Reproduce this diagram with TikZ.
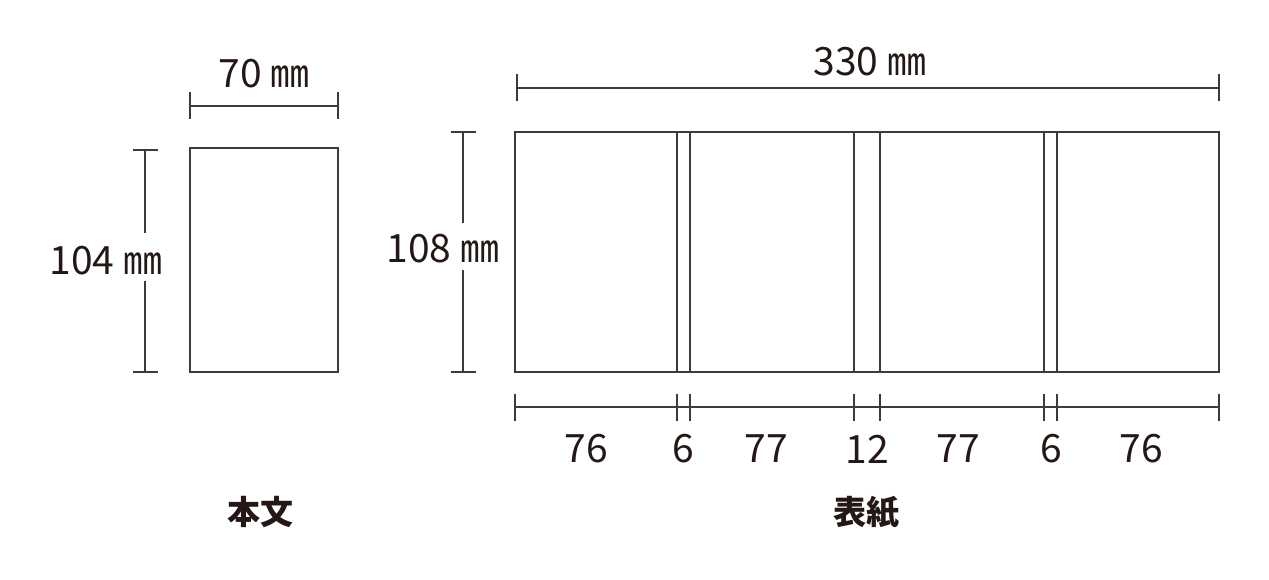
\documentclass[tikz,border=0pt]{standalone}
\usepackage{fontspec}
\setmainfont{Noto Sans CJK JP}
\usetikzlibrary{calc}
\definecolor{ink}{HTML}{231815}
\definecolor{rulegray}{HTML}{3E3A39}
\tikzset{
    outline/.style = {draw=rulegray, line width=1.2pt},
    dimline/.style = {draw=rulegray, line width=1.1pt},
    dimlabel/.style = {text=ink, inner sep=0pt, font=\fontsize{39}{44}\selectfont},
    caption/.style = {text=ink, inner sep=0pt, font=\fontsize{33}{38}\selectfont\bfseries}
}
\newcommand{\vtick}[1]{\draw[dimline] ($(#1)+(0,-13.5)$) -- ($(#1)+(0,13.5)$)}
\newcommand{\htick}[1]{\draw[dimline] ($(#1)+(-12.5,0)$) -- ($(#1)+(12.5,0)$)}

\begin{document}
\begin{tikzpicture}[x=1pt,y=-1pt]
\useasboundingbox (0,0) rectangle (1269,580);

% body (honbun)
\coordinate (bodyNW) at (190,148);
\coordinate (bodySE) at (338,372);
\draw[outline] (bodyNW) rectangle (bodySE);

\coordinate (wL) at (190,106);
\coordinate (wR) at (338,106);
\draw[dimline] (wL) -- (wR);
\vtick{wL}; \vtick{wR};
\node[dimlabel] (bodyW) at (264,74) {70 ㎜};

\coordinate (hT) at (145,150);
\coordinate (hB) at (145,372);
\node[dimlabel] (bodyH) at (106,261) {104 ㎜};
\draw[dimline] (hT) -- (hT |- 0,233);
\draw[dimline] (hB) -- (hB |- 0,281);
\htick{hT}; \htick{hB};

\node[caption] (bodyCap) at (260,512) {本文};

% cover (hyoushi)
\coordinate (coverNW) at (515,132);
\coordinate (coverSE) at (1219,372);
\draw[outline] (coverNW) rectangle (coverSE);
\foreach \xx in {677,690,854,880,1044,1057}
    \draw[outline] (\xx,132) -- (\xx,372);

\coordinate (cwL) at (517,88);
\coordinate (cwR) at (1219,88);
\draw[dimline] (cwL) -- (cwR);
\vtick{cwL}; \vtick{cwR};
\node[dimlabel] (coverW) at (870,62) {330 ㎜};

\coordinate (chT) at (463,132);
\coordinate (chB) at (463,372);
\node[dimlabel] (coverH) at (443,249) {108 ㎜};
\draw[dimline] (chT) -- (chT |- 0,223);
\draw[dimline] (chB) -- (chB |- 0,270);
\htick{chT}; \htick{chB};

\coordinate (segL) at (515,407);
\coordinate (segR) at (1219,407);
\draw[dimline] (segL) -- (segR);
\foreach \xx [count=\i] in {515,677,690,854,880,1044,1057,1219} {
    \coordinate (seg\i) at (\xx,407);
    \vtick{seg\i};
}
\foreach \xx/\val [count=\i] in {586/76,683/6,766/77,867/12,958/77,1051/6,1141/76}
    \node[dimlabel] (part\i) at (\xx,449) {\val};

\node[caption] (coverCap) at (866,512) {表紙};
\end{tikzpicture}
\end{document}
